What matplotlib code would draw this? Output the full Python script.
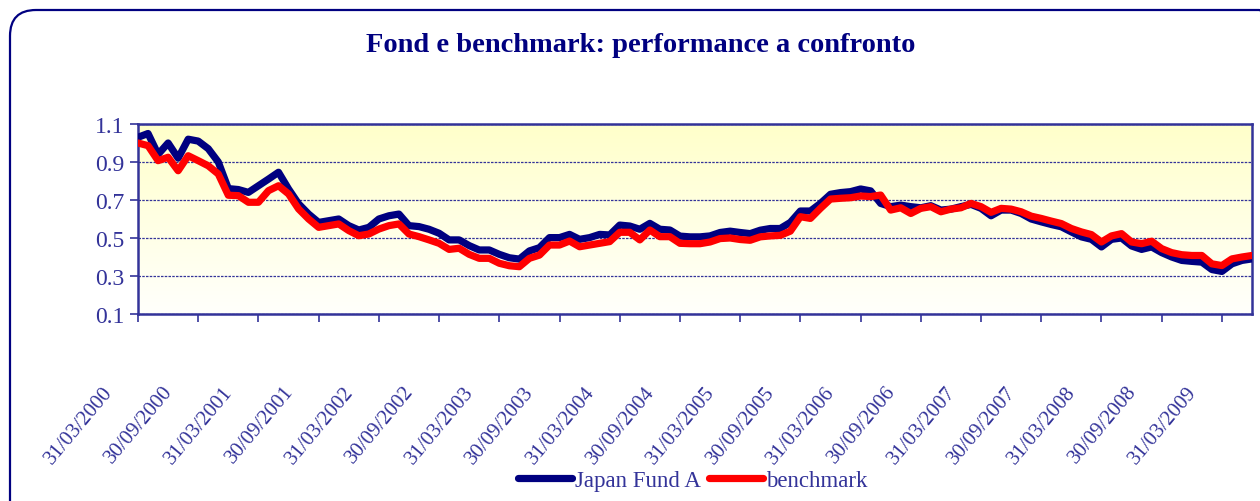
import matplotlib
matplotlib.use("Agg")
import matplotlib.pyplot as plt
import matplotlib.transforms as mtransforms
import numpy as np
from matplotlib.colors import LinearSegmentedColormap
from matplotlib.patches import FancyBboxPatch

# monthly values, 31/03/2000 -> 30/06/2009 (rebased to 1)
fund = [1.03, 1.05, 0.94, 1.0, 0.92, 1.02, 1.01, 0.97, 0.9, 0.76, 0.755, 0.74,
        0.775, 0.81, 0.846, 0.758, 0.68, 0.626, 0.582, 0.591, 0.6, 0.565, 0.542, 0.556,
        0.6, 0.617, 0.626, 0.565, 0.56, 0.546, 0.525, 0.49, 0.49, 0.46, 0.437, 0.437,
        0.414, 0.396, 0.389, 0.432, 0.449, 0.502, 0.502, 0.519, 0.493, 0.502, 0.519, 0.516,
        0.568, 0.563, 0.546, 0.577, 0.546, 0.542, 0.51, 0.506, 0.506, 0.511, 0.529, 0.536,
        0.529, 0.523, 0.541, 0.55, 0.55, 0.582, 0.642, 0.642, 0.682, 0.73, 0.739, 0.744,
        0.758, 0.748, 0.682, 0.665, 0.673, 0.665, 0.659, 0.67, 0.647, 0.652, 0.665, 0.677,
        0.656, 0.617, 0.647, 0.647, 0.629, 0.6, 0.585, 0.571, 0.559, 0.532, 0.506, 0.493,
        0.453, 0.493, 0.5, 0.458, 0.44, 0.453, 0.423, 0.4, 0.382, 0.377, 0.373, 0.334,
        0.324, 0.364, 0.382, 0.39]

bench = [1.0, 0.986, 0.907, 0.925, 0.854, 0.933, 0.907, 0.88, 0.837, 0.725, 0.723, 0.688,
         0.688, 0.749, 0.775, 0.732, 0.653, 0.6, 0.556, 0.565, 0.574, 0.539, 0.512, 0.521,
         0.547, 0.565, 0.574, 0.521, 0.507, 0.49, 0.472, 0.44, 0.446, 0.414, 0.393, 0.393,
         0.367, 0.354, 0.349, 0.393, 0.41, 0.463, 0.463, 0.484, 0.454, 0.463, 0.472, 0.481,
         0.53, 0.53, 0.49, 0.542, 0.507, 0.507, 0.472, 0.47, 0.47, 0.479, 0.497, 0.5,
         0.492, 0.488, 0.506, 0.511, 0.514, 0.536, 0.612, 0.603, 0.656, 0.705, 0.709, 0.712,
         0.721, 0.718, 0.726, 0.647, 0.659, 0.629, 0.656, 0.665, 0.638, 0.652, 0.659, 0.682,
         0.665, 0.635, 0.656, 0.652, 0.638, 0.615, 0.603, 0.589, 0.576, 0.55, 0.532, 0.518,
         0.479, 0.511, 0.523, 0.479, 0.47, 0.483, 0.444, 0.423, 0.412, 0.408, 0.408, 0.364,
         0.355, 0.39, 0.4, 0.408]

date_labels = ["31/03/2000", "30/09/2000", "31/03/2001", "30/09/2001", "31/03/2002",
               "30/09/2002", "31/03/2003", "30/09/2003", "31/03/2004", "30/09/2004",
               "31/03/2005", "30/09/2005", "31/03/2006", "30/09/2006", "31/03/2007",
               "30/09/2007", "31/03/2008", "30/09/2008", "31/03/2009"]

NAVY = "#000080"
TXT = "#333399"
plt.rcParams["font.family"] = ["Liberation Serif", "DejaVu Serif"]

fig = plt.figure(figsize=(12.6, 5.02), dpi=100)
ax = fig.add_axes([138 / 1260, 1 - 315 / 502, (1252 - 138) / 1260, (315 - 125) / 502])

# yellow -> white gradient behind the plot
grad = np.linspace(0, 1, 256).reshape(-1, 1)
cmap = LinearSegmentedColormap.from_list("bg", ["#FFFFCA", "#FFFFFC"])
ax.imshow(grad, extent=[0, 1, 0, 1], transform=ax.transAxes, aspect="auto",
          cmap=cmap, zorder=0)

x = np.arange(len(fund))
ax.plot(x, fund, color=NAVY, lw=5.2, solid_joinstyle="round", solid_capstyle="round",
        label="Japan Fund A", zorder=3)
ax.plot(x, bench, color="#FF0000", lw=5.2, solid_joinstyle="round", solid_capstyle="round",
        label="benchmark", zorder=4)

ax.set_xlim(0, len(fund) - 1)
ax.set_ylim(0.1, 1.1)
ax.set_yticks([0.1, 0.3, 0.5, 0.7, 0.9, 1.1])
ax.set_yticklabels(["0.1", "0.3", "0.5", "0.7", "0.9", "1.1"])
ax.yaxis.grid(True, color=TXT, lw=0.9, ls=(0, (2, 1)))

tick_pos = np.arange(0, len(fund), 6)[:len(date_labels)]
ax.set_xticks(tick_pos)
ax.set_xticklabels([])

# rotated date labels, hung below and left of each tick like the original
trans = mtransforms.blended_transform_factory(ax.transData, ax.transAxes) + \
    mtransforms.ScaledTranslation(-0.36, -0.68, fig.dpi_scale_trans)
for xp, lab in zip(tick_pos, date_labels):
    ax.text(xp, 0, lab, transform=trans, rotation=50, rotation_mode="anchor",
            ha="right", va="top", fontsize=15, color=TXT, clip_on=False)

ax.tick_params(axis="y", labelsize=17, labelcolor=TXT, color=TXT, length=6, width=1.2)
ax.tick_params(axis="x", color=TXT, length=6, width=1.2)
for s in ax.spines.values():
    s.set_color(TXT)
    s.set_linewidth(1.8)

fig.text(641 / 1260, 1 - 45 / 502, "Fond e benchmark: performance a confronto",
         ha="center", va="center", fontsize=20.5, fontweight="bold", color=NAVY)

leg = fig.legend(loc="center", bbox_to_anchor=(693 / 1260, 1 - 481 / 502), ncol=2,
                 frameon=False, fontsize=16.5, handlelength=2.35, handletextpad=0.15,
                 columnspacing=0.35)
for t in leg.get_texts():
    t.set_color(TXT)

# rounded frame around the chart
box = FancyBboxPatch((0.10, -0.4), 12.75, 5.31, boxstyle="round,pad=0,rounding_size=0.26",
                     transform=fig.dpi_scale_trans, fill=False, ec=NAVY, lw=1.6)
fig.add_artist(box)

fig.savefig("out.png", dpi=100)
